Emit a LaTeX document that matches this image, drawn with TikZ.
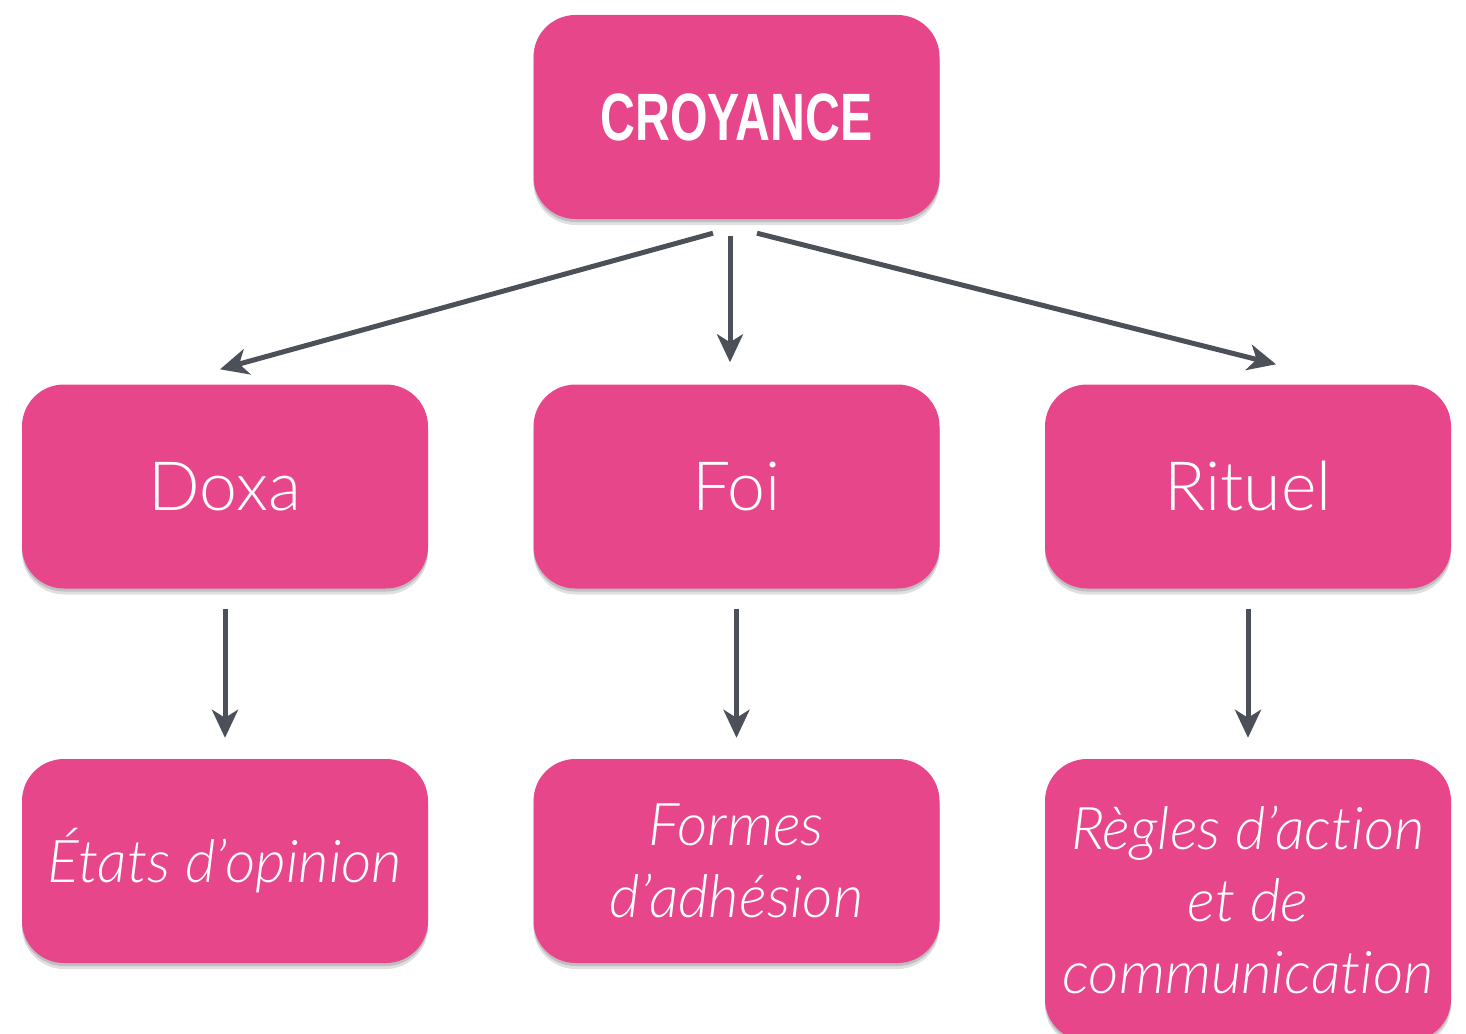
\documentclass[tikz,border=0pt]{standalone}
\usepackage{fontspec}
\usetikzlibrary{shadows,arrows.meta,calc}
\newfontfamily\titlefont{Liberation Sans}[FakeStretch=0.72]
\newfontfamily\lightfont{Lato}[UprightFont=* Light, ItalicFont=* Light Italic, Ligatures=NoCommon]
\definecolor{pinkbox}{HTML}{E8468B}
\definecolor{arrowgray}{HTML}{4B5059}
\begin{document}
\begin{tikzpicture}[x=1pt,y=-1pt,
  box/.style={fill=pinkbox, rounded corners=42pt, minimum width=406pt, minimum height=204pt,
    text=white, align=center, inner sep=0pt,
    drop shadow={shadow xshift=0pt, shadow yshift=-6pt, opacity=0.12, fill=black},
    drop shadow={shadow xshift=0pt, shadow yshift=-3pt, opacity=0.15, fill=black}},
  midtext/.style={font=\lightfont\fontsize{68}{80}\selectfont},
  lowtext/.style={font=\lightfont\itshape\fontsize{59}{72}\selectfont},
  arr/.style={draw=arrowgray, line width=5pt, -{Stealth[length=28pt,width=26pt,inset=8pt]}}]
\useasboundingbox (0,0) rectangle (1466,1033);
\node[box, font=\titlefont\bfseries\fontsize{67}{70}\selectfont] (top) at (736.5,117) {CROYANCE};
\node[box, midtext] (doxa) at (225,486.5) {Doxa};
\node[box, midtext] (foi) at (736.5,486.5) {Foi};
\node[box, midtext] (rituel) at (1248,486.5) {Rituel};
\node[box, lowtext] (etats) at (225,861) {États d’opinion};
\node[box, lowtext] (formes) at (736.5,861) {Formes\\d’adhésion};
\node[box, lowtext, minimum height=282pt] (regles) at (1248,900) {Règles d’action\\et de\\communication};
\draw[arr] ($(top.south)+(-23.5,14)$) -- ($(doxa.north)+(-5,-15)$);
\draw[arr] ($(top.south)+(-6.5,17)$) -- ($(foi.north)+(-6.5,-22)$);
\draw[arr] ($(top.south)+(20.5,14)$) -- ($(rituel.north)+(28,-20)$);
\draw[arr] ($(doxa.south)+(0,20)$) -- ($(etats.north)+(0,-21)$);
\draw[arr] ($(foi.south)+(0,20)$) -- ($(formes.north)+(0,-21)$);
\draw[arr] ($(rituel.south)+(0,20)$) -- ($(regles.north)+(0,-21)$);
\end{tikzpicture}
\end{document}
